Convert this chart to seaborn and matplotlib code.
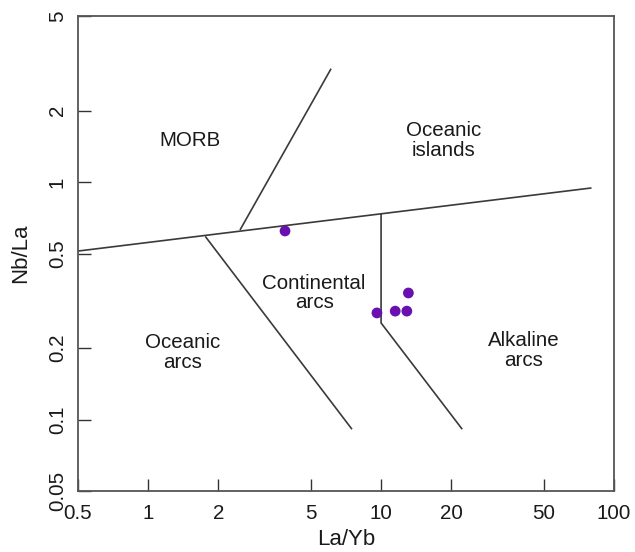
import matplotlib
matplotlib.use("Agg")
import matplotlib.pyplot as plt
import seaborn as sns
import pandas as pd

# Sample compositions
la_yb = [3.87, 9.6, 11.5, 12.9, 13.1]
nb_la = [0.622, 0.281, 0.286, 0.286, 0.341]

# Field boundaries (La/Yb, Nb/La)
main_x = [0.5, 80.0]
main_y = [0.512, 0.944]
morb_oib_x = [2.48, 6.1]
morb_oib_y = [0.628, 3.0]
oarc_carc_x = [1.76, 7.5]
oarc_carc_y = [0.59, 0.091]
carc_alk_x = [10.0, 10.0, 22.3]
carc_alk_y = [0.74, 0.255, 0.091]

# Field names and their positions
field_names = ["MORB", "Oceanic\nislands", "Continental\narcs", "Oceanic\narcs", "Alkaline\narcs"]
field_x = [1.51, 18.6, 5.16, 1.40, 41.0]
field_y = [1.49, 1.50, 0.341, 0.192, 0.195]

x_ticks = [0.5, 1, 2, 5, 10, 20, 50, 100]
x_labels = ["0.5", "1", "2", "5", "10", "20", "50", "100"]
y_ticks = [0.05, 0.1, 0.2, 0.5, 1, 2, 5]
y_labels = ["0.05", "0.1", "0.2", "0.5", "1", "2", "5"]

sns.set_style("white")
plt.rcParams["font.family"] = ["Liberation Sans", "DejaVu Sans"]

fig = plt.figure(figsize=(6.35, 5.52), dpi=100)
ax = fig.add_axes([0.1228, 0.1105, 0.8442, 0.8605])
ax.set_xscale("log")
ax.set_yscale("log")

line_kw = dict(color="#3a3a3a", linewidth=1.2, solid_capstyle="butt")
for xs, ys in [(main_x, main_y), (morb_oib_x, morb_oib_y),
               (oarc_carc_x, oarc_carc_y), (carc_alk_x, carc_alk_y)]:
    ax.plot(xs, ys, **line_kw)

samples = pd.DataFrame({"La/Yb": la_yb, "Nb/La": nb_la})
sns.scatterplot(data=samples, x="La/Yb", y="Nb/La", ax=ax, s=60,
                color="#6a10b0", edgecolor="none", zorder=5)

for name, fx, fy in zip(field_names, field_x, field_y):
    ax.text(fx, fy, name, ha="center", va="center", fontsize=14.8,
            color="#1a1a1a", linespacing=1.05)

ax.set_xlim(0.5, 100)
ax.set_ylim(0.05, 5)
ax.set_xticks(x_ticks)
ax.set_xticklabels(x_labels)
ax.set_yticks(y_ticks)
ax.set_yticklabels(y_labels, rotation=90, va="center")
ax.minorticks_off()
ax.tick_params(axis="both", which="major", bottom=True, left=True,
               direction="in", length=9, width=1.0,
               color="#333333", labelsize=14.8, labelcolor="#1a1a1a")
ax.tick_params(axis="x", pad=9)
ax.tick_params(axis="y", pad=8)

for sp in ax.spines.values():
    sp.set_color("#555555")
    sp.set_linewidth(1.3)

ax.set_xlabel("La/Yb", fontsize=16, color="#1a1a1a", labelpad=5)
ax.set_ylabel("Nb/La", fontsize=16, color="#1a1a1a", labelpad=12)

fig.savefig("out.png", dpi=100, facecolor="white")
